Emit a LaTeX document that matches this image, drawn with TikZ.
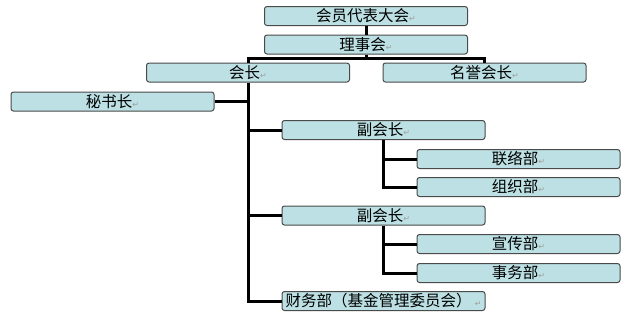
\documentclass[tikz,border=0pt]{standalone}
\usepackage{fontspec}
\newfontfamily\cjk{Noto Sans CJK SC}
\newfontfamily\djv{DejaVu Sans}
\definecolor{boxfill}{HTML}{BCE0E3}
\definecolor{boxedge}{HTML}{4A4A4A}
\definecolor{markgray}{HTML}{A0A0A0}
\newcommand{\retmark}{{\djv\fontsize{8}{8}\selectfont\textcolor{markgray}{↵}}}
\tikzset{
  orgbox/.style={draw=boxedge, line width=1pt, fill=boxfill, rounded corners=2.5pt,
    minimum width=203pt, minimum height=19pt, inner sep=0pt,
    font=\cjk\fontsize{15.5}{15.5}\selectfont},
  link/.style={line width=3pt, black}
}
\begin{document}
\begin{tikzpicture}[x=1pt,y=-1pt]
\useasboundingbox (0,0) rectangle (625,317);
\node[orgbox] (dahui) at (366,16) {会员代表大会\retmark};
\node[orgbox] (lishi) at (366,44.5) {理事会\retmark};
\node[orgbox] (hz) at (248,72.5) {会长\retmark};
\node[orgbox] (my) at (484.5,72.5) {名誉会长\retmark};
\node[orgbox] (ms) at (112.5,101.5) {秘书长\retmark};
\node[orgbox] (fu1) at (383.5,130) {副会长\retmark};
\node[orgbox] (ll) at (518.5,159) {联络部\retmark};
\node[orgbox] (zz) at (518.5,187) {组织部\retmark};
\node[orgbox] (fu2) at (383.5,215.5) {副会长\retmark};
\node[orgbox] (xc) at (518.5,244) {宣传部\retmark};
\node[orgbox] (sw) at (518.5,273) {事务部\retmark};
\node[orgbox] (cw) at (383.5,301) {\makebox[196pt][l]{财务部（基金管理委员会）\hfill\retmark}};
\coordinate (j1) at (366,58.5);
\draw[link] (dahui.south) -- (lishi.north);
\draw[link] (lishi.south) -- (j1);
\draw[link] (hz.north) |- (j1) -| (my.north);
\draw[link] (hz.south) |- (cw.west);
\draw[link] (ms.east) -- (ms.east -| hz.south);
\draw[link] (fu1.west) -- (fu1.west -| hz.south);
\draw[link] (fu2.west) -- (fu2.west -| hz.south);
\draw[link] (fu1.south) |- (zz.west);
\draw[link] (ll.west) -- (ll.west -| fu1.south);
\draw[link] (fu2.south) |- (sw.west);
\draw[link] (xc.west) -- (xc.west -| fu2.south);
\end{tikzpicture}
\end{document}
